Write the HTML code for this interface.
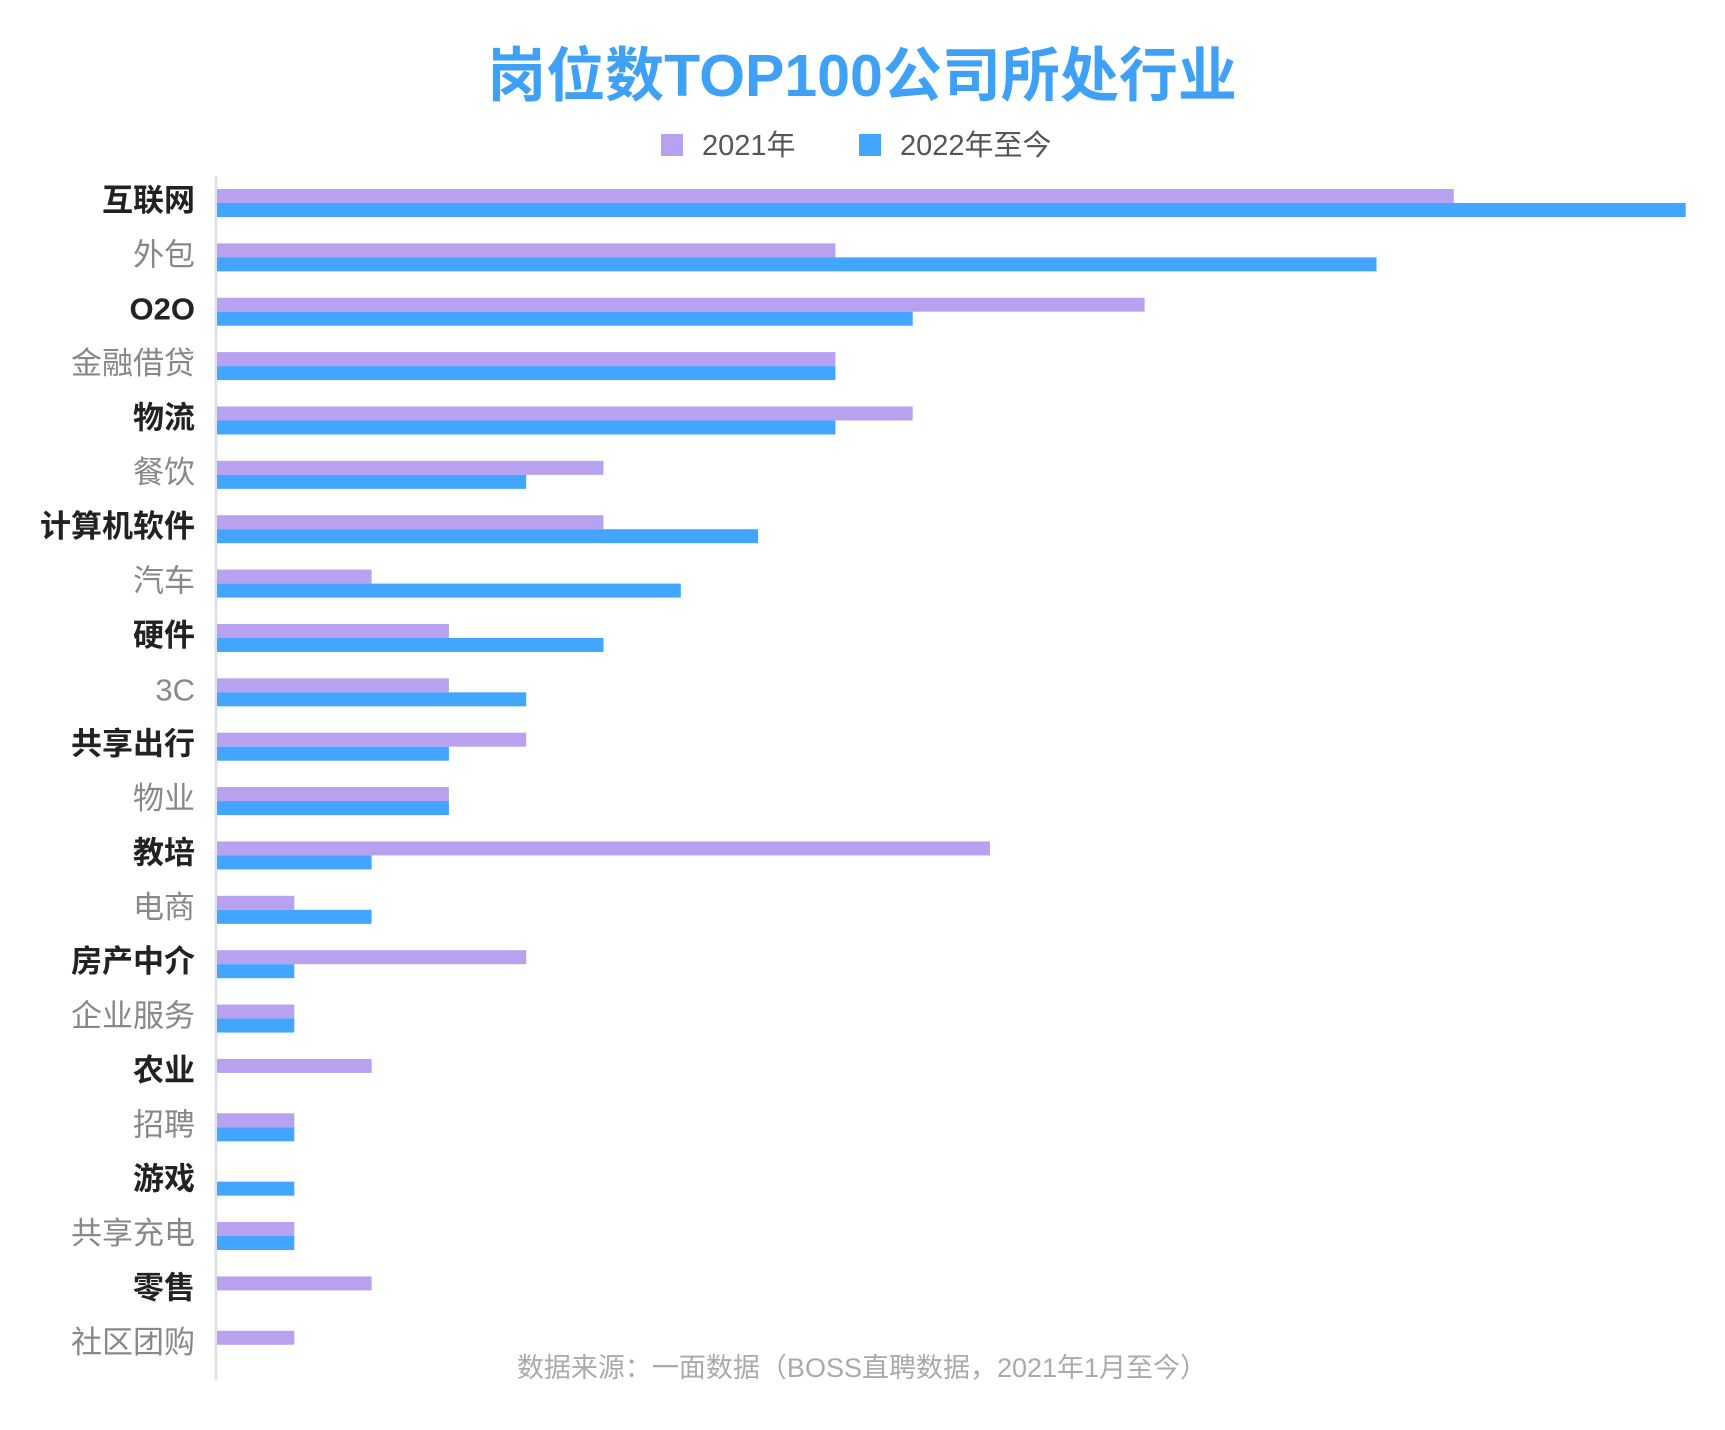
<!DOCTYPE html>
<html><head><meta charset="utf-8">
<style>
body{margin:0;background:#fff;}
svg{display:block;font-family:"Liberation Sans","Noto Sans CJK SC",sans-serif;}
</style></head>
<body>
<svg id="chart" width="1725" height="1430" viewBox="0 0 1725 1430" xmlns="http://www.w3.org/2000/svg">
<text x="862" y="96" text-anchor="middle" font-size="59" font-weight="bold" fill="#3fa1f5">岗位数TOP100公司所处行业</text>
<g>
<rect x="661" y="134" width="22" height="22" fill="#b8a2f0"/>
<text x="702" y="155" font-size="29" fill="#555">2021年</text>
<rect x="859" y="134" width="22" height="22" fill="#42a5ff"/>
<text x="900" y="155" font-size="29" fill="#555">2022年至今</text>
</g>
<line x1="216" y1="176" x2="216" y2="1380" stroke="#dfe2e8" stroke-width="3"/>
<g id="bars"></g>
<g id="labels"></g>
<text x="862" y="1377" text-anchor="middle" font-size="27" fill="#aaa">数据来源：一面数据（BOSS直聘数据，2021年1月至今）</text>
</svg>
<script>
const categories=["互联网","外包","O2O","金融借贷","物流","餐饮","计算机软件","汽车","硬件","3C","共享出行","物业","教培","电商","房产中介","企业服务","农业","招聘","游戏","共享充电","零售","社区团购"];
const series2021=[16,8,12,8,9,5,5,2,3,3,4,3,10,1,4,1,2,1,0,1,2,1];
const series2022=[19,15,9,8,8,4,7,6,5,4,3,3,2,2,1,1,0,1,1,1,0,0];
const NS="http://www.w3.org/2000/svg";
const x0=216, unit=77.3, y0=200, step=54.37;
const xs=v=>v*unit;
const yc=i=>y0+i*step;
const bars=document.getElementById('bars');
const labels=document.getElementById('labels');
categories.forEach((c,i)=>{
  const t=document.createElementNS(NS,'text');
  
  
  t.setAttribute('x',195);t.setAttribute('y',yc(i)+11);
  t.setAttribute('text-anchor','end');t.setAttribute('font-size','31');
  t.setAttribute('fill',i%2===0?'#222':'#888');
  if(i%2===0)t.setAttribute('font-weight','bold');
  t.textContent=c;labels.appendChild(t);
  if(series2021[i]>0){
    const r=document.createElementNS(NS,'rect');
    
    
    r.setAttribute('x',x0+1);r.setAttribute('y',yc(i)-11);
    r.setAttribute('width',xs(series2021[i]));r.setAttribute('height',14);
    r.setAttribute('fill','#b8a2f0');bars.appendChild(r);
  }
  if(series2022[i]>0){
    const r=document.createElementNS(NS,'rect');
    
    
    r.setAttribute('x',x0+1);r.setAttribute('y',yc(i)+3);
    r.setAttribute('width',xs(series2022[i]));r.setAttribute('height',14);
    r.setAttribute('fill','#42a5ff');bars.appendChild(r);
  }
});
</script>
</body></html>
